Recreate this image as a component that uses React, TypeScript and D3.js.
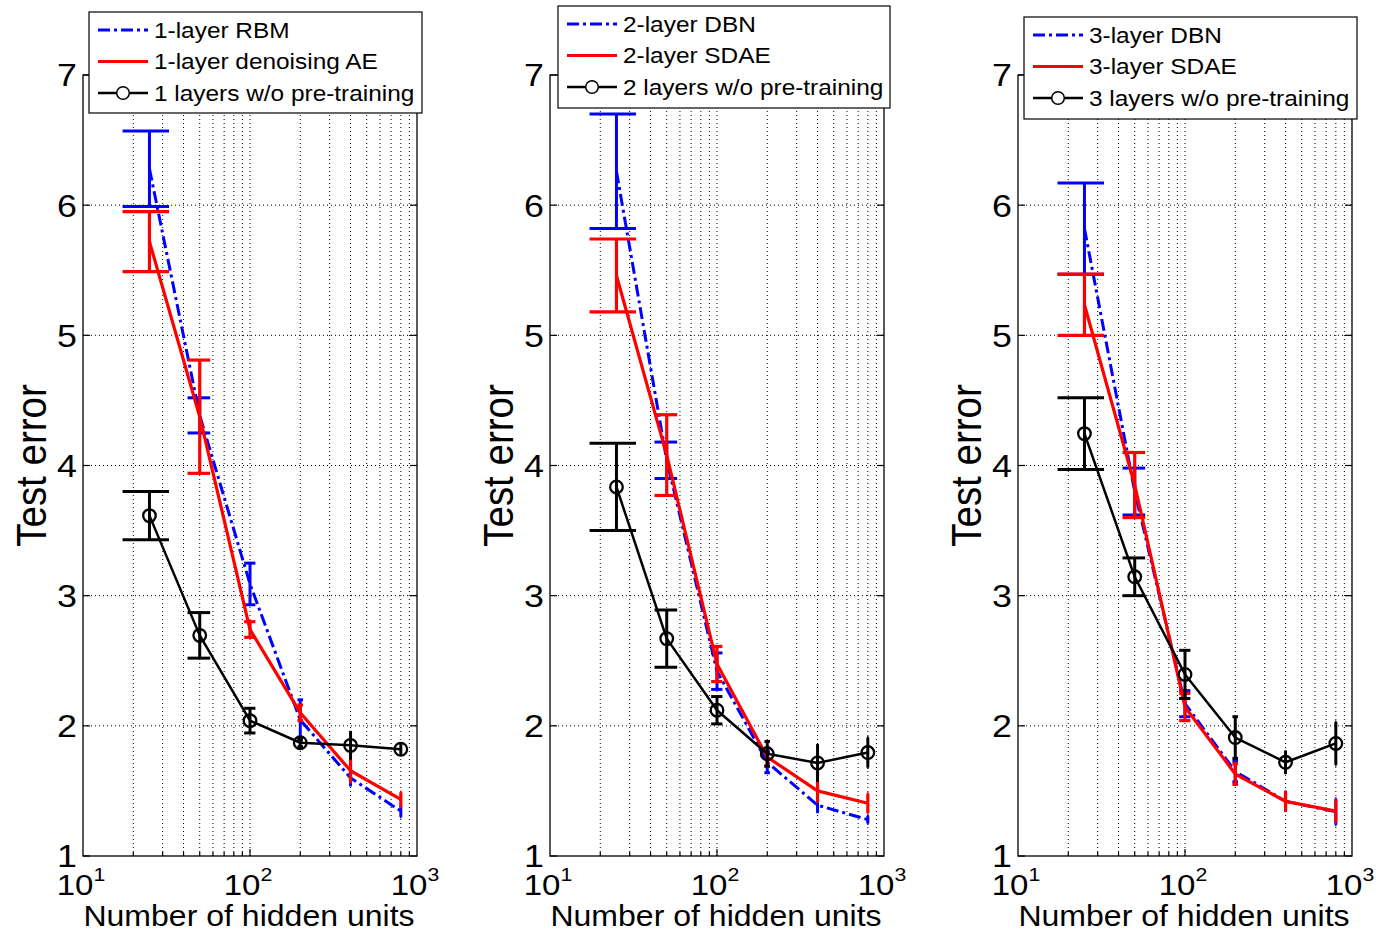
import React from 'react';
import * as d3 from 'd3';

// ---------------- data ----------------
const hiddenUnits = [25, 50, 100, 200, 400, 800];
const yTicks = [1, 2, 3, 4, 5, 6, 7];
const xTickExps = [1, 2, 3];
const yLabel = 'Test error';
const xLabel = 'Number of hidden units';

const p1Labels = ['1-layer RBM', '1-layer denoising AE', '1 layers w/o pre-training'];
const p1BlueMean = [6.28, 4.385, 3.09, 2.045, 1.6, 1.345];
const p1BlueErr = [0.29, 0.135, 0.16, 0.155, 0.055, 0.045];
const p1RedMean = [5.72, 4.375, 2.74, 2.1, 1.655, 1.435];
const p1RedErr = [0.23, 0.435, 0.06, 0.06, 0.085, 0.055];
const p1BlackMean = [3.615, 2.695, 2.04, 1.87, 1.85, 1.82];
const p1BlackErr = [0.185, 0.175, 0.095, 0.03, 0.1, 0.04];

const p2Labels = ['2-layer DBN', '2-layer SDAE', '2 layers w/o pre-training'];
const p2BlueMean = [6.26, 4.04, 2.42, 1.72, 1.39, 1.28];
const p2BlueErr = [0.44, 0.14, 0.14, 0.08, 0.05, 0.03];
const p2RedMean = [5.46, 4.08, 2.475, 1.76, 1.5, 1.405];
const p2RedErr = [0.28, 0.31, 0.135, 0.07, 0.08, 0.075];
const p2BlackMean = [3.835, 2.67, 2.12, 1.785, 1.715, 1.795];
const p2BlackErr = [0.335, 0.22, 0.105, 0.095, 0.135, 0.115];

const p3Labels = ['3-layer DBN', '3-layer SDAE', '3 layers w/o pre-training'];
const p3BlueMean = [5.82, 3.8, 2.17, 1.65, 1.42, 1.34];
const p3BlueErr = [0.35, 0.18, 0.1, 0.08, 0.07, 0.1];
const p3RedMean = [5.235, 3.85, 2.145, 1.63, 1.42, 1.345];
const p3RedErr = [0.235, 0.25, 0.105, 0.08, 0.07, 0.085];
const p3BlackMean = [4.245, 3.145, 2.395, 1.91, 1.72, 1.865];
const p3BlackErr = [0.275, 0.145, 0.185, 0.16, 0.08, 0.165];

// ---------------- layout / style ----------------
const W = 1376;
const H = 931;
const plotTop = 75;
const plotBottom = 856;
const plotWidth = 334;
const SX = 1.12; // horizontal stretch of text seen in the reference
const FONT = '"Liberation Sans", Arial, Helvetica, sans-serif';
const BLUE = '#0000ff';
const RED = '#ff0000';
const BLACK = '#000000';

type Series = { mean: number[]; err: number[]; color: string; dash?: string; width: number; barWidth: number; marker?: boolean };

const panels = [
  {
    left: 83,
    labels: p1Labels,
    legend: { x: 89, y: 12, w: 333, h: 101 },
    series: [
      { mean: p1BlueMean, err: p1BlueErr, color: BLUE, dash: '12,4,3,4', width: 3, barWidth: 3 },
      { mean: p1RedMean, err: p1RedErr, color: RED, width: 3.2, barWidth: 3.2 },
      { mean: p1BlackMean, err: p1BlackErr, color: BLACK, width: 2.5, barWidth: 3, marker: true },
    ] as Series[],
  },
  {
    left: 550,
    labels: p2Labels,
    legend: { x: 558, y: 6, w: 332, h: 102 },
    series: [
      { mean: p2BlueMean, err: p2BlueErr, color: BLUE, dash: '12,4,3,4', width: 3, barWidth: 3 },
      { mean: p2RedMean, err: p2RedErr, color: RED, width: 3.2, barWidth: 3.2 },
      { mean: p2BlackMean, err: p2BlackErr, color: BLACK, width: 2.5, barWidth: 3, marker: true },
    ] as Series[],
  },
  {
    left: 1018,
    labels: p3Labels,
    legend: { x: 1024, y: 17, w: 333, h: 102 },
    series: [
      { mean: p3BlueMean, err: p3BlueErr, color: BLUE, dash: '12,4,3,4', width: 3, barWidth: 3 },
      { mean: p3RedMean, err: p3RedErr, color: RED, width: 3.2, barWidth: 3.2 },
      { mean: p3BlackMean, err: p3BlackErr, color: BLACK, width: 2.5, barWidth: 3, marker: true },
    ] as Series[],
  },
];

const minorX: number[] = [];
for (const dec of [10, 100]) for (let k = 2; k <= 9; k++) minorX.push(dec * k);

function Panel({ left, labels, legend, series }: typeof panels[number]) {
  const x = d3.scaleLog().domain([10, 1000]).range([left, left + plotWidth]);
  const y = d3.scaleLinear().domain([1, 7]).range([plotBottom, plotTop]);
  const right = left + plotWidth;
  const tee = (d3.max(hiddenUnits)! - d3.min(hiddenUnits)!) / 100;
  const line = d3
    .line<number>()
    .x((_, i) => x(hiddenUnits[i]))
    .y((d) => y(d));

  const yTickFs = 32;
  const xTickFs = 29.5;
  return (
    <g>
      {/* grid */}
      <g stroke="#000" strokeWidth={1} strokeDasharray="1,3">
        {[...minorX, 100].map((v) => (
          <line key={'gx' + v} x1={x(v)} x2={x(v)} y1={plotTop} y2={plotBottom} />
        ))}
        {yTicks.slice(1, -1).map((v) => (
          <line key={'gy' + v} x1={left} x2={right} y1={y(v)} y2={y(v)} />
        ))}
      </g>
      {/* ticks */}
      <g stroke="#000" strokeWidth={1.2}>
        {yTicks.map((v) => (
          <g key={'ty' + v}>
            <line x1={left} x2={left + 7} y1={y(v)} y2={y(v)} />
            <line x1={right} x2={right - 7} y1={y(v)} y2={y(v)} />
          </g>
        ))}
        {[100].map((v) => (
          <g key={'tx' + v}>
            <line x1={x(v)} x2={x(v)} y1={plotBottom} y2={plotBottom - 7} />
            <line x1={x(v)} x2={x(v)} y1={plotTop} y2={plotTop + 7} />
          </g>
        ))}
        {minorX.map((v) => (
          <g key={'tm' + v}>
            <line x1={x(v)} x2={x(v)} y1={plotBottom} y2={plotBottom - 4} />
            <line x1={x(v)} x2={x(v)} y1={plotTop} y2={plotTop + 4} />
          </g>
        ))}
      </g>
      {/* data */}
      {series.map((s, si) => (
        <g key={'s' + si}>
          <g stroke={s.color} strokeWidth={s.barWidth} fill="none">
            {s.mean.map((m, i) => {
              const xv = hiddenUnits[i];
              const lo = y(m - s.err[i]);
              const hi = y(m + s.err[i]);
              return (
                <g key={i}>
                  <line x1={x(xv)} x2={x(xv)} y1={lo} y2={hi} />
                  <line x1={x(xv - tee)} x2={x(xv + tee)} y1={lo} y2={lo} />
                  <line x1={x(xv - tee)} x2={x(xv + tee)} y1={hi} y2={hi} />
                </g>
              );
            })}
          </g>
          <path
            d={line(s.mean) || ''}
            fill="none"
            stroke={s.color}
            strokeWidth={s.width}
            strokeDasharray={s.dash}
            strokeLinejoin="round"
          />
          {s.marker &&
            s.mean.map((m, i) => (
              <circle key={'c' + i} cx={x(hiddenUnits[i])} cy={y(m)} r={6.3} fill="none" stroke={s.color} strokeWidth={2.3} />
            ))}
        </g>
      ))}
      {/* box */}
      <rect x={left} y={plotTop} width={plotWidth} height={plotBottom - plotTop} fill="none" stroke="#000" strokeWidth={1.3} />
      {/* y tick labels */}
      {yTicks.map((v) => (
        <text
          key={'yl' + v}
          transform={`translate(${left - 6},${y(v) + yTickFs * 0.358}) scale(${SX},1)`}
          textAnchor="end"
          fontSize={yTickFs}
          fontFamily={FONT}
        >
          {v}
        </text>
      ))}
      {/* x tick labels */}
      {xTickExps.map((e) => (
        <text
          key={'xl' + e}
          transform={`translate(${x(Math.pow(10, e)) - 2},895) scale(${SX},1)`}
          textAnchor="middle"
          fontSize={xTickFs}
          fontFamily={FONT}
        >
          10
          <tspan fontSize={19} dy={-14}>
            {e}
          </tspan>
        </text>
      ))}
      {/* axis labels */}
      <text transform={`translate(${(left + right) / 2 - 1},925.5) scale(${SX},1)`} textAnchor="middle" fontSize={28.6} fontFamily={FONT}>
        {xLabel}
      </text>
      <text
        transform={`translate(${left - 37},${(plotTop + plotBottom) / 2}) scale(${SX},1) rotate(-90)`}
        textAnchor="middle"
        fontSize={38.5}
        fontFamily={FONT}
      >
        {yLabel}
      </text>
      {/* legend */}
      <g>
        <rect x={legend.x} y={legend.y} width={legend.w} height={legend.h} fill="#fff" stroke="#000" strokeWidth={1.2} />
        {series.map((s, i) => {
          const ry = legend.y + 18 + i * 31.5;
          const x1 = legend.x + 9;
          const x2 = legend.x + 59;
          return (
            <g key={'lg' + i}>
              <line x1={x1} x2={x2} y1={ry} y2={ry} stroke={s.color} strokeWidth={s.width} strokeDasharray={s.dash} />
              {s.marker && <circle cx={(x1 + x2) / 2} cy={ry} r={6.3} fill="#fff" stroke={s.color} strokeWidth={1.5} />}
              <text
                transform={`translate(${legend.x + 65},${ry + 7.8}) scale(${SX},1)`}
                fontSize={21.8}
                fontFamily={FONT}
              >
                {labels[i]}
              </text>
            </g>
          );
        })}
      </g>
    </g>
  );
}

export default function App() {
  return (
    <div style={{ position: 'absolute', left: 0, top: 0 }}>
      <svg width={W} height={H} viewBox={`0 0 ${W} ${H}`} style={{ display: 'block', background: '#fff' }}>
        <rect x={0} y={0} width={W} height={H} fill="#fff" />
        {panels.map((p, i) => (
          <Panel key={i} {...p} />
        ))}
      </svg>
    </div>
  );
}
